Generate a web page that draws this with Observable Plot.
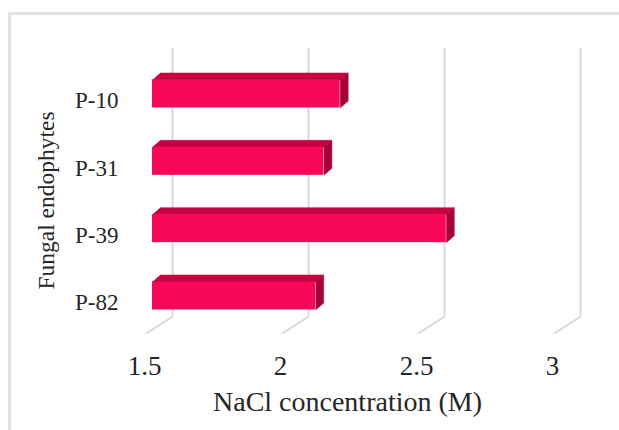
<!DOCTYPE html>
<html>
<head>
<meta charset="utf-8">
<script src="https://cdn.jsdelivr.net/npm/d3@7"></script>
<script src="https://cdn.jsdelivr.net/npm/@observablehq/plot@0.6"></script>
<style>
  html, body { margin: 0; padding: 0; background: #fff; overflow: hidden; }
  #wrap { position: relative; width: 619px; height: 430px; }
  #border { position: absolute; left: 8px; top: 12px; width: 700px; height: 500px;
            border-left: 3px solid #e2e2e2; border-top: 3px solid #e2e2e2; box-sizing: border-box; }
  #chart { position: absolute; left: 0; top: 0; }
</style>
</head>
<body>
<div id="wrap"><div id="border"></div><div id="chart"></div></div>
<script>
// ---- data ----
const categories = ["P-10", "P-31", "P-39", "P-82"];
const values = [2.19, 2.13, 2.58, 2.10];
const xTicks = [1.5, 2, 2.5, 3];
const xTitle = "NaCl concentration (M)";
const yTitle = "Fungal endophytes";

// ---- geometry (pixel sizes converted to data units) ----
const X0 = 1.5, X1 = 3, PX0 = 152, PX1 = 560;
const Y0 = 0, Y1 = 3, PY0 = 93.5, PY1 = 295.5;
const px2x = (X1 - X0) / (PX1 - PX0);
const px2y = (Y1 - Y0) / (PY1 - PY0);
const yAt = (px) => Y0 + (px - PY0) * px2y;
const xAt = (px) => X0 + (px - PX0) * px2x;

const half = 14 * px2y;      // half bar height
const ox = 8 * px2x;         // bar depth, horizontal
const oy = 7 * px2y;         // bar depth, vertical
const wallDx = 20;           // back wall offset (px)
const floorBackY = yAt(316), floorFrontY = yAt(333), wallTopY = yAt(48);

const rows = categories.map((c, i) => ({c, i, v: values[i]}));
const topFaces = rows.flatMap(r => {
  const yT = r.i - half;
  return [[X0, yT], [X0 + ox, yT - oy], [r.v + ox, yT - oy], [r.v, yT]].map(([x, y]) => ({k: r.c, x, y}));
});
const sideFaces = rows.flatMap(r => {
  const yT = r.i - half, yB = r.i + half;
  return [[r.v, yT], [r.v + ox, yT - oy], [r.v + ox, yB - oy], [r.v, yB]].map(([x, y]) => ({k: r.c, x, y}));
});

const font = "'Times New Roman', 'Liberation Serif', 'DejaVu Serif', serif";
const textColor = "#262626";
const gridColor = "#d9d9d9";

const plot = Plot.plot({
  width: 619,
  height: 430,
  marginLeft: 0, marginRight: 0, marginTop: 0, marginBottom: 0,
  style: {background: "transparent", overflow: "visible"},
  x: {domain: [X0, X1], range: [PX0, PX1], axis: null},
  y: {domain: [Y0, Y1], range: [PY0, PY1], axis: null},
  marks: [
    // back wall gridlines
    Plot.ruleX(xTicks, {x: d => d, y1: wallTopY, y2: floorBackY, dx: wallDx, stroke: gridColor, strokeWidth: 2}),
    // floor diagonals
    Plot.link(xTicks, {x1: d => d + wallDx * px2x, y1: floorBackY, x2: d => d - 6 * px2x, y2: floorFrontY,
                       stroke: gridColor, strokeWidth: 2}),
    // bar faces
    Plot.line(topFaces, {x: "x", y: "y", z: "k", fill: "#c6013f", stroke: "#c6013f", strokeWidth: 0.5}),
    Plot.line(sideFaces, {x: "x", y: "y", z: "k", fill: "#a8003a", stroke: "#a8003a", strokeWidth: 0.5}),
    Plot.rect(rows, {x1: X0, x2: "v", y1: d => d.i - half, y2: d => d.i + half, fill: "#f8075a"}),
    // x tick labels
    Plot.text(xTicks, {x: d => d, y: yAt(366), dx: -8, text: d => String(d), fontSize: 27, fill: textColor}),
    // y tick labels
    Plot.text(rows, {x: X0, y: "i", dy: 7, dx: -34, text: "c", textAnchor: "end", fontSize: 23, fill: textColor}),
    // axis titles
    Plot.text([xTitle], {x: xAt(347), y: yAt(402), text: d => d, fontSize: 28, fill: textColor}),
    Plot.text([yTitle], {x: X0, y: yAt(200), dx: -106, rotate: -90, text: d => d, fontSize: 23.5, fill: textColor})
  ]
});
d3.select(plot).selectAll("text").style("font-family", font);
document.getElementById("chart").append(plot);
</script>
</body>
</html>
